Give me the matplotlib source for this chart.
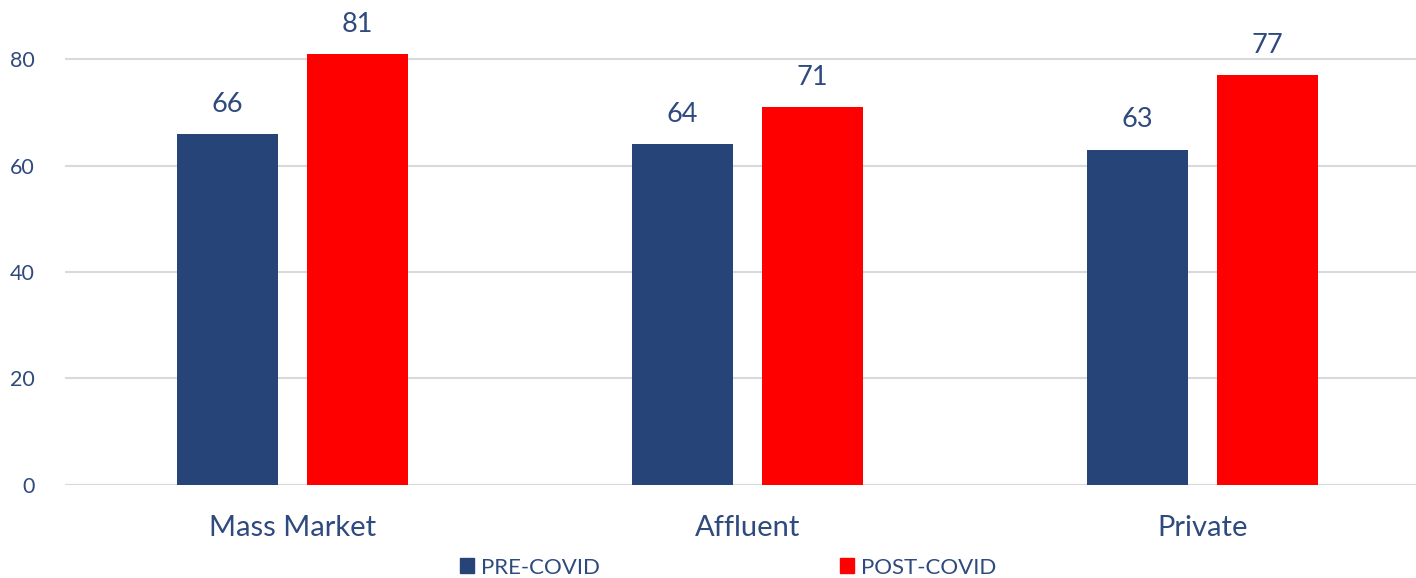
import numpy as np
import matplotlib.pyplot as plt
from matplotlib.patches import Patch

categories = ["Mass Market", "Affluent", "Private"]
pre_covid = [66, 64, 63]
post_covid = [81, 71, 77]
series_names = ["PRE-COVID", "POST-COVID"]

blue = "#264478"
red = "#FF0000"
text_col = "#2F4A7F"

plt.rcParams['font.family'] = ['Lato', 'DejaVu Sans']

fig = plt.figure(figsize=(14.16, 5.78), dpi=100)
ax = fig.add_axes([0.046, 0.161, 0.954, 0.829])

x = np.arange(len(categories))
w = 0.222
off = 0.143
b1 = ax.bar(x - off, pre_covid, w, color=blue, zorder=3)
b2 = ax.bar(x + off, post_covid, w, color=red, zorder=3)

for bars in (b1, b2):
    for rect in bars:
        h = rect.get_height()
        ax.text(rect.get_x() + rect.get_width() / 2, h + 3.2, f"{h:.0f}",
                ha='center', va='bottom', fontsize=19.5, color=text_col)

ax.set_ylim(0, 90)
ax.set_xlim(-0.5, 2.47)
ax.set_yticks([0, 20, 40, 60, 80])
ax.set_xticks(x)
ax.set_xticklabels(categories, fontsize=21, color=text_col)
ax.tick_params(axis='y', labelsize=15.5, colors=text_col, length=0, pad=22)
ax.tick_params(axis='x', length=0, pad=22)
ax.yaxis.grid(True, color='#D9D9D9', linewidth=1.5, zorder=0)
for s in ax.spines.values():
    s.set_visible(False)
ax.axhline(0, color='#D9D9D9', linewidth=1.5, zorder=2)

handles = [Patch(color=blue), Patch(color=red)]
fig.legend(handles, series_names, loc='center', bbox_to_anchor=(0.514, 0.018),
           ncol=2, frameon=False, fontsize=16, labelcolor=text_col,
           handlelength=0.65, handleheight=0.65, handletextpad=0.3,
           columnspacing=10.8)

fig.savefig("out.png", dpi=100)
